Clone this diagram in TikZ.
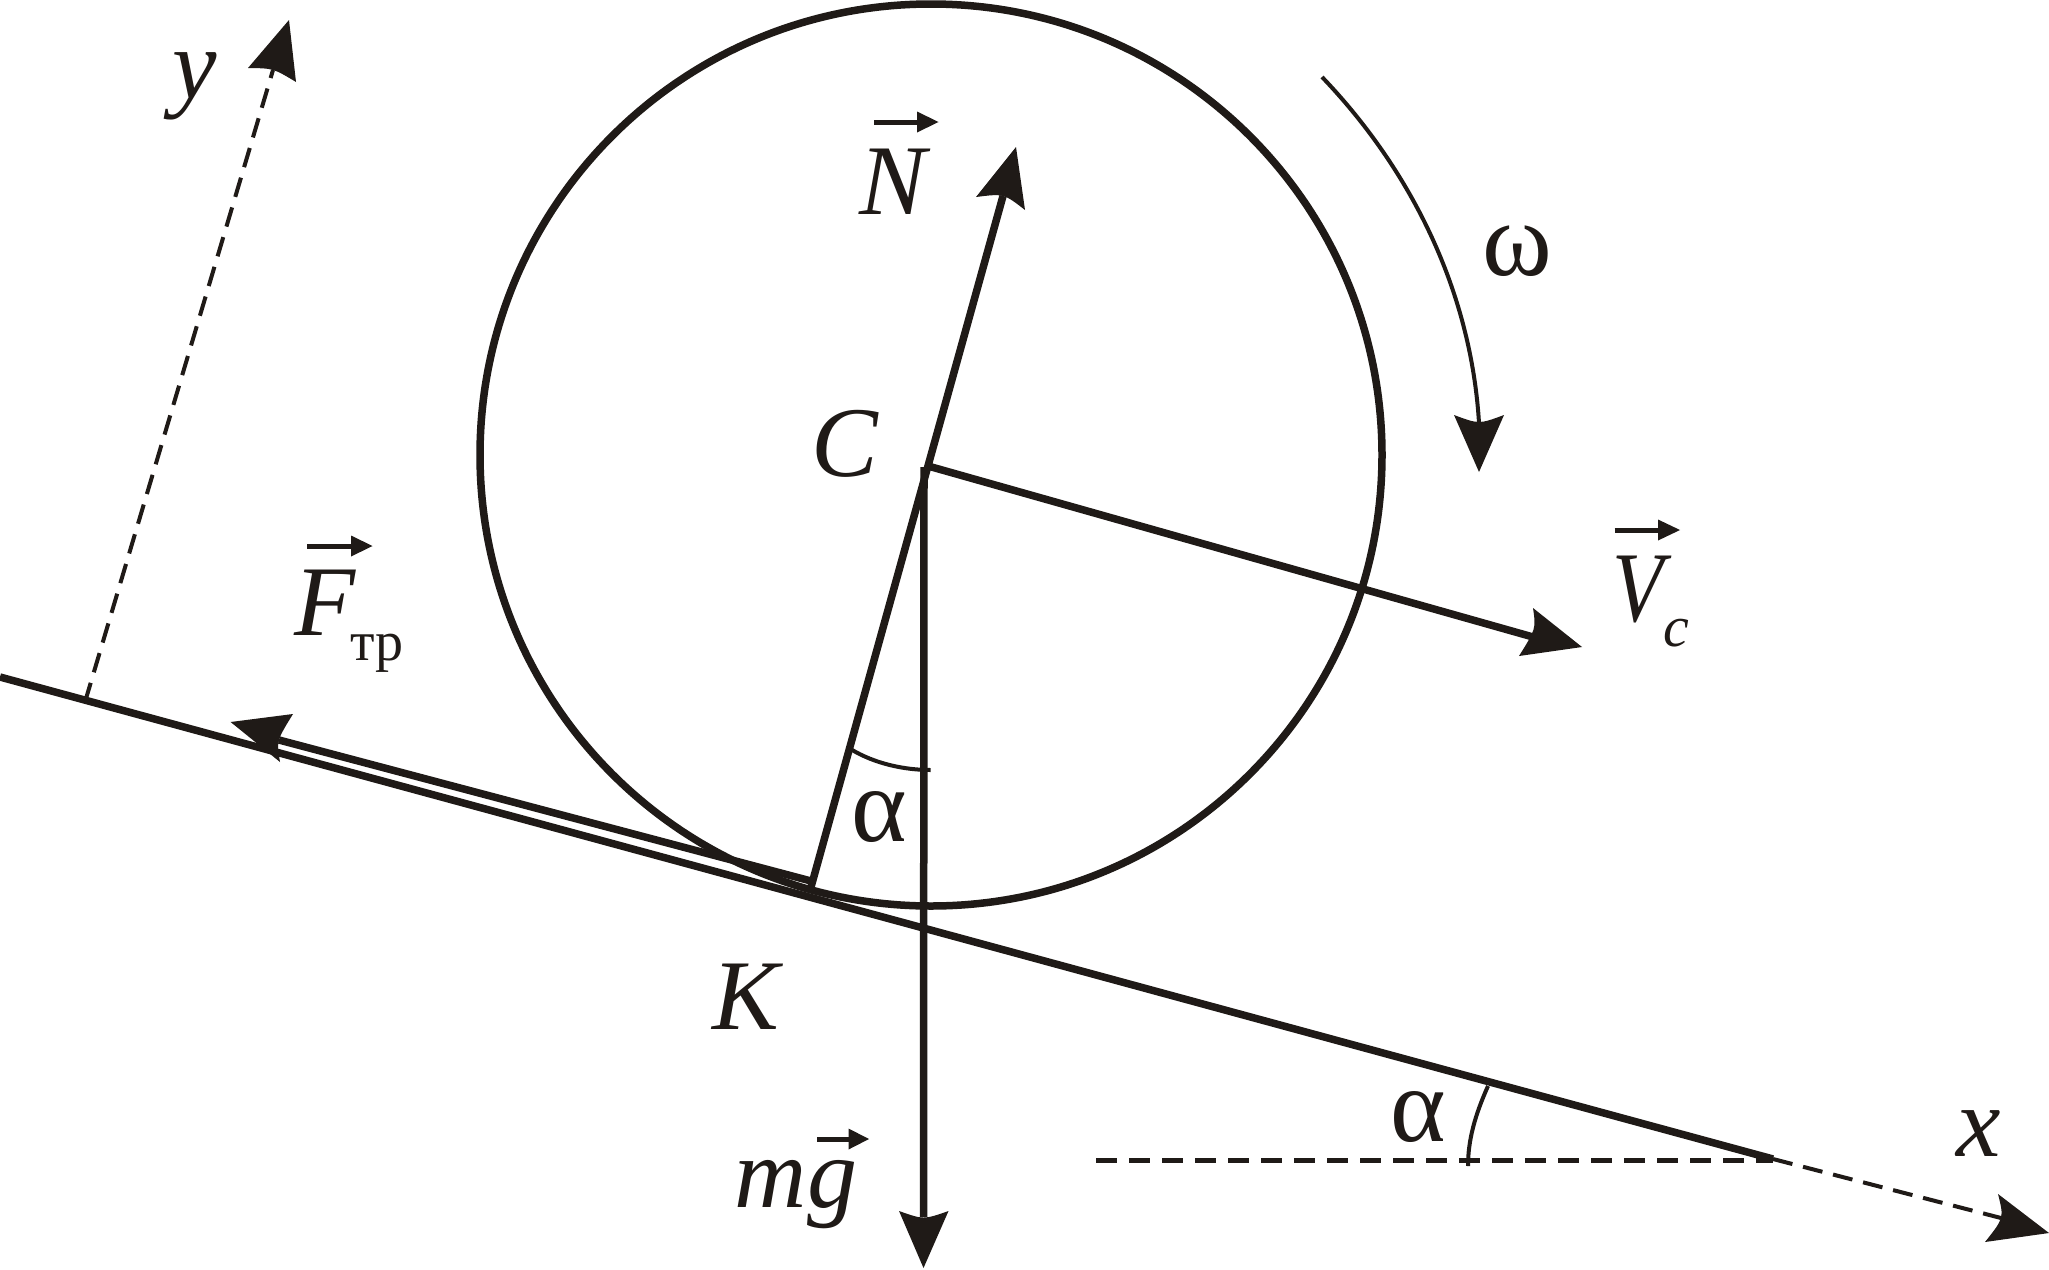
\documentclass[tikz,border=0pt]{standalone}
\usepackage{graphicx}
\usepackage{fontspec}
\setmainfont{Liberation Serif}
\definecolor{ink}{HTML}{1F1A17}
\tikzset{
  lab/.style={inner sep=0pt,anchor=base,text=ink,font=\fontsize{100}{100}\selectfont\itshape},
  upr/.style={inner sep=0pt,anchor=base,text=ink,font=\fontsize{106}{106}\selectfont},
  sublab/.style={inner sep=0pt,anchor=base,text=ink,font=\fontsize{58}{58}\selectfont\itshape},
  subrm/.style={inner sep=0pt,anchor=base,text=ink,font=\fontsize{56}{56}\selectfont},
  thick line/.style={draw=ink,line width=7.5pt},
  thin line/.style={draw=ink,line width=4pt},
  dash h/.style={draw=ink,line width=5pt,dash pattern=on 21pt off 12pt},
  dash s/.style={draw=ink,line width=4pt,dash pattern=on 20pt off 11pt},
  head/.style={fill=ink,draw=none},
  vecbar/.style={draw=ink,line width=5pt}
}
\newcommand{\arrowhead}[4]{\fill[head] (#1) -- (#2) .. controls (#3) .. (#4) -- cycle;}
\newcommand{\vecmark}[4]{%
  \coordinate (vs) at (#1,#4);
  \coordinate (vh) at (#2,#4);
  \draw[vecbar] (vs) -- (vh);
  \fill[head] (#3,#4) -- (#2,#4-10.5) -- (#2,#4+10.5) -- cycle;}
\begin{document}
\begin{tikzpicture}[x=1pt,y=-1pt]
\useasboundingbox[fill=white] (0,0) rectangle (2049,1269);
% key points
\coordinate (C) at (931,455);
\coordinate (Ctop) at (924,467);
\coordinate (Vstart) at (928,466);
\coordinate (K) at (811,887);
\coordinate (Kf) at (811,881);
\coordinate (A) at (0,677);
\coordinate (B) at (1773,1159);
\coordinate (Yfoot) at (85,702);
% wheel
\draw[thick line] (C) circle[radius=451];
% incline
\draw[thick line] (A) -- (B);
% axes
\coordinate (Xnotch) at (2001,1218);
\draw[dash s] (B) -- (Xnotch);
\arrowhead{2049,1233}{1998,1194}{2004,1218}{1985,1242}
\coordinate (Ynotch) at (273,70);
\draw[dash s] (Yfoot) -- (Ynotch);
\arrowhead{289,20}{248,68}{273.3,68.3}{296,82}
\coordinate (H) at (1096,1160);
\coordinate (Hend) at (1773,1160);
\draw[dash h] (H) -- (Hend);
% N
\coordinate (Nnotch) at (1003,196);
\draw[thick line] (K) -- (Nnotch);
\arrowhead{1016,147}{976,197}{1003.8,193.5}{1025,210}
% mg
\coordinate (Gnotch) at (923.5,1217);
\draw[thick line] (Ctop) -- (Gnotch);
\arrowhead{923.5,1268}{899,1211}{923.6,1219.7}{948.5,1211}
% V
\coordinate (Vnotch) at (1533,637);
\draw[thick line] (Vstart) -- (Vnotch);
\arrowhead{1582,647}{1533,608}{1536,628.7}{1519,656}
% F
\coordinate (Fnotch) at (279,740);
\draw[thick line] (Kf) -- (Fnotch);
\arrowhead{230.6,722}{293,714}{276.5,740.7}{280,762}
% omega arc
\coordinate (O1) at (1322,77);
\coordinate (O2) at (1479,423);
\draw[thin line] (O1) .. controls (1412,171) and (1471,292) .. (O2);
\arrowhead{1479,472}{1454,415}{1479,424.3}{1504,415}
% angle arcs
\coordinate (a1) at (850.5,749);
\coordinate (a2) at (930.6,770);
\draw[thin line] (a1) .. controls (875,764) and (905,770) .. (a2);
\coordinate (b1) at (1488,1086);
\coordinate (b2) at (1468,1166);
\draw[thin line] (b1) .. controls (1475,1115) and (1468,1140) .. (b2);
% labels
\node[lab] (ly) at (195,98) {y};
\node[lab] (lN) at (893,214) {N};
\vecmark{874}{917}{938.5}{122}
\node[lab] (lC) at (845,476) {C};
\node[lab] (lF) at (325,635) {F};
\vecmark{307}{351}{372.5}{546}
\node[subrm] (ltr) at (377,660) {тр};
\node[lab] (lV) at (1638,621) {\scalebox{.84}[1]{V}};
\vecmark{1614.5}{1658}{1680}{530}
\node[sublab] (lc) at (1676,646) {c};
\node[upr] (lw) at (1517,275) {ω};
\node[upr] (la1) at (879,841) {α};
\node[lab] (lK) at (746,1029) {K};
\node[lab] (lmg) at (796,1207) {mg};
\vecmark{817}{848.5}{869}{1139}
\node[upr] (la2) at (1418,1141) {α};
\node[lab] (lx) at (1979,1156) {x};
\end{tikzpicture}
\end{document}
